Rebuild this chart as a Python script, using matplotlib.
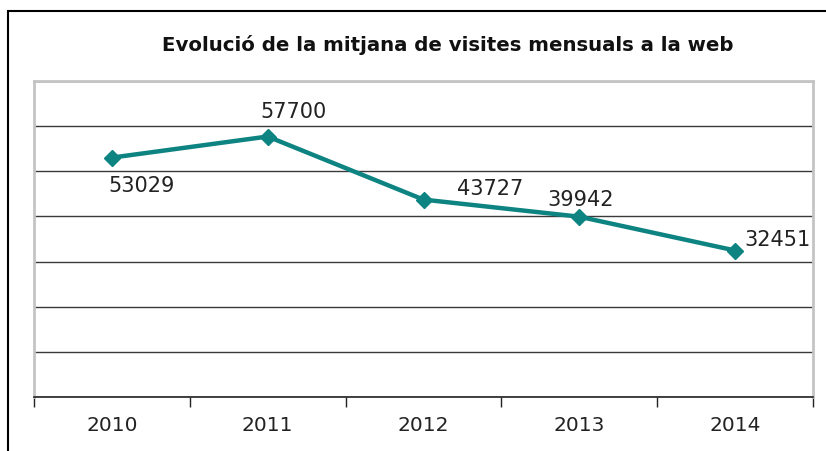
import numpy as np
import matplotlib.pyplot as plt
from matplotlib.patches import Rectangle

# data
years = ['2010', '2011', '2012', '2013', '2014']
visits = [53029, 57700, 43727, 39942, 32451]
# label offsets in pixels (dx, dy) relative to each point
label_offsets = [(30, -28), (26, 25), (67, 11), (1, 17), (42, 11)]

line_color = '#0d8482'

fig = plt.figure(figsize=(8.26, 4.51), dpi=100)
ax = fig.add_axes([34 / 826, 1 - 397 / 451, (813 - 34) / 826, (397 - 81) / 451])

x = np.arange(len(years))
ax.plot(x, visits, color=line_color, lw=3.2, marker='D', ms=8, zorder=3)

for xi, v, (dx, dy) in zip(x, visits, label_offsets):
    ax.annotate(str(v), (xi, v), xytext=(dx, dy), textcoords='offset pixels',
                ha='center', va='center', fontsize=15, color='#222222')

ax.set_xlim(-0.5, len(years) - 0.5)
ax.set_ylim(0, 70000)

# gridlines
ax.set_yticks(np.arange(0, 70001, 10000))
ax.yaxis.grid(True, color='#3a3a3a', lw=1)
ax.tick_params(axis='y', left=False, labelleft=False)
ax.set_axisbelow(True)

# category ticks at boundaries, labels centred
ax.set_xticks(np.arange(-0.5, len(years), 1))
ax.set_xticklabels([])
ax.set_xticks(x, minor=True)
ax.set_xticklabels(years, minor=True, fontsize=14.5, color='#222222')
ax.tick_params(axis='x', which='major', length=7, width=1, color='#222222')
ax.tick_params(axis='x', which='minor', length=0, pad=14)

for side in ['left', 'top', 'right']:
    ax.spines[side].set_color('#c4c4c4')
    ax.spines[side].set_linewidth(2)
ax.spines['bottom'].set_color('#222222')
ax.spines['bottom'].set_linewidth(1.2)

fig.text(448 / 826, 1 - 45 / 451, 'Evolució de la mitjana de visites mensuals a la web',
         ha='center', va='center', fontsize=14.2, fontweight='bold', color='#111111')

# outer chart border (runs off the right and bottom edges)
fig.patches.append(Rectangle((8 / 826, -0.1), 1.0, 1 - 10.5 / 451 + 0.1,
                             transform=fig.transFigure, fill=False,
                             edgecolor='black', lw=1.5))

fig.savefig('out.png', dpi=100)
